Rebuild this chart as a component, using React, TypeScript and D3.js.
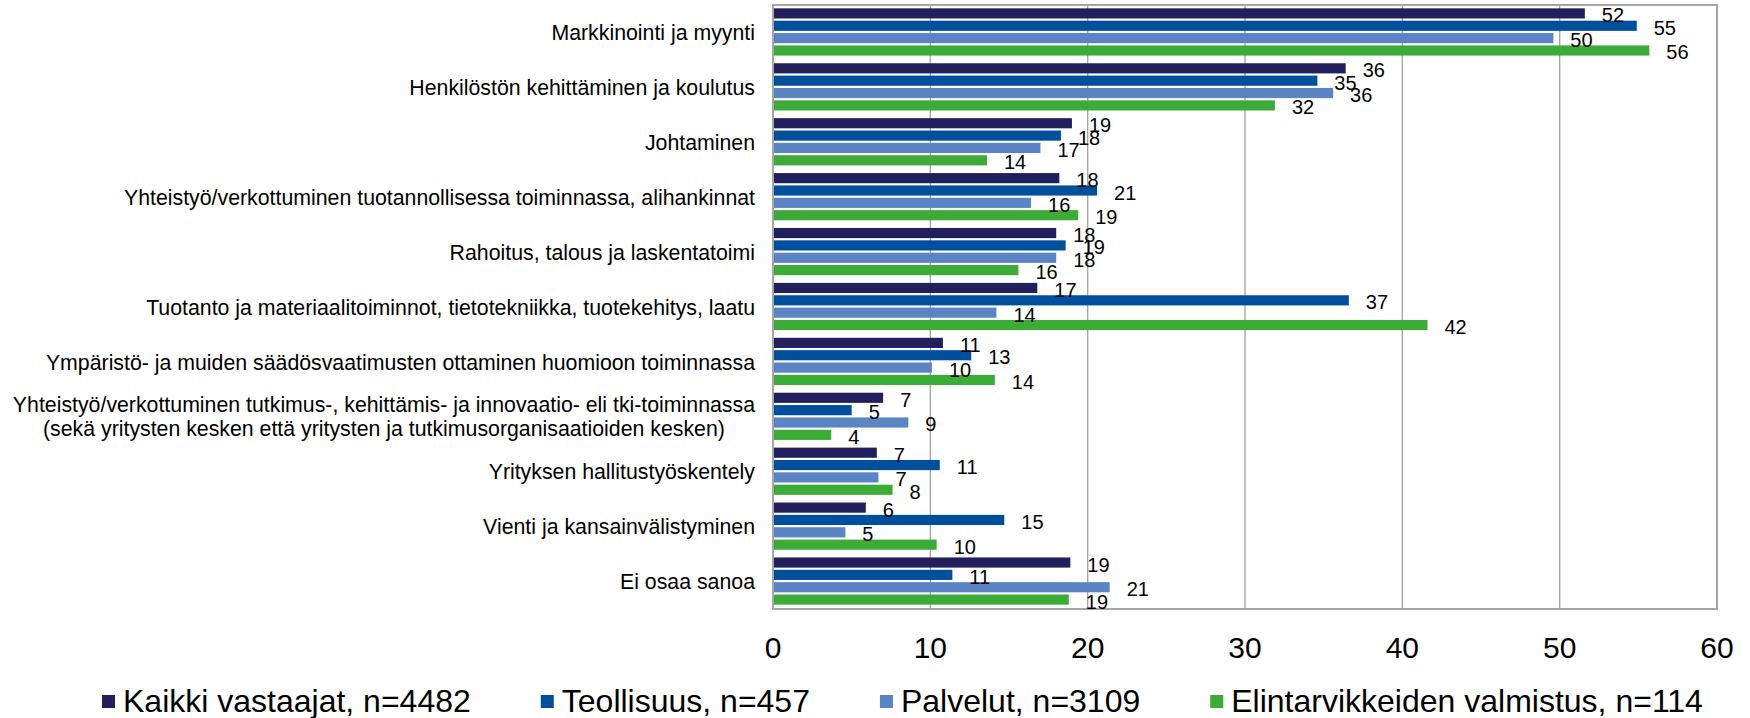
import React, { useEffect, useRef } from "react";
import * as d3 from "d3";

const categories: string[][] = [
  ["Markkinointi ja myynti"],
  ["Henkilöstön kehittäminen ja koulutus"],
  ["Johtaminen"],
  ["Yhteistyö/verkottuminen tuotannollisessa toiminnassa, alihankinnat"],
  ["Rahoitus, talous ja laskentatoimi"],
  ["Tuotanto ja materiaalitoiminnot, tietotekniikka, tuotekehitys, laatu"],
  ["Ympäristö- ja muiden säädösvaatimusten ottaminen huomioon toiminnassa"],
  [
    "Yhteistyö/verkottuminen tutkimus-, kehittämis- ja innovaatio- eli tki-toiminnassa",
    "(sekä yritysten kesken että yritysten ja tutkimusorganisaatioiden kesken)",
  ],
  ["Yrityksen hallitustyöskentely"],
  ["Vienti ja kansainvälistyminen"],
  ["Ei osaa sanoa"],
];

const seriesNames = [
  "Kaikki vastaajat, n=4482",
  "Teollisuus, n=457",
  "Palvelut, n=3109",
  "Elintarvikkeiden valmistus, n=114",
];
const seriesColors = ["#221f5d", "#004f9c", "#5b84c4", "#3cab37"];

const kaikki = [51.6, 36.4, 19.0, 18.2, 18.0, 16.8, 10.8, 7.0, 6.6, 5.9, 18.9];
const teollisuus = [54.9, 34.6, 18.3, 20.6, 18.6, 36.6, 12.6, 5.0, 10.6, 14.7, 11.4];
const palvelut = [49.6, 35.6, 17.0, 16.4, 18.0, 14.2, 10.1, 8.6, 6.7, 4.6, 21.4];
const elintarvike = [55.7, 31.9, 13.6, 19.4, 15.6, 41.6, 14.1, 3.7, 7.6, 10.4, 18.8];
const seriesValues = [kaikki, teollisuus, palvelut, elintarvike];

const xTicks = [0, 10, 20, 30, 40, 50, 60];

const W = 1750;
const H = 718;
const FONT = "'Liberation Sans', Arial, sans-serif";

export default function App() {
  const ref = useRef<SVGSVGElement>(null);

  useEffect(() => {
    const svg = d3.select(ref.current);
    svg.selectAll("*").remove();

    const left = 773, right = 1717, top = 5, bottom = 609;
    const x = d3.scaleLinear().domain([0, 60]).range([left, right]);
    const idx = categories.map((_, i) => String(i));
    const y0 = d3.scaleBand().domain(idx).range([top, bottom]).paddingInner(0.1).paddingOuter(0.05);
    const y1 = d3.scaleBand().domain(["0", "1", "2", "3"]).range([0, y0.bandwidth()]);

    // gridlines
    svg.append("g")
      .selectAll("line")
      .data(xTicks.filter((t) => t > 0 && t < 60))
      .join("line")
      .attr("x1", (d) => x(d))
      .attr("x2", (d) => x(d))
      .attr("y1", top)
      .attr("y2", bottom)
      .attr("stroke", "#a6a6a6")
      .attr("stroke-width", 1.4);

    // bars
    const g = svg.append("g");
    categories.forEach((_, ci) => {
      seriesValues.forEach((vals, si) => {
        const yy = (y0(String(ci)) as number) + (y1(String(si)) as number);
        g.append("rect")
          .attr("x", x(0))
          .attr("y", yy + 0.6)
          .attr("width", x(vals[ci]) - x(0))
          .attr("height", y1.bandwidth() - 2.2)
          .attr("fill", seriesColors[si]);
      });
    });

    // border
    svg.append("rect")
      .attr("x", left)
      .attr("y", top)
      .attr("width", right - left)
      .attr("height", bottom - top)
      .attr("fill", "none")
      .attr("stroke", "#a6a6a6")
      .attr("stroke-width", 2);

    // value labels
    const lg = svg.append("g").attr("font-family", FONT).attr("font-size", 20).attr("fill", "#000");
    categories.forEach((_, ci) => {
      seriesValues.forEach((vals, si) => {
        const yy = (y0(String(ci)) as number) + (y1(String(si)) as number) + y1.bandwidth() / 2;
        lg.append("text")
          .attr("x", x(vals[ci]) + 17)
          .attr("y", yy + 8.5)
          .text(String(Math.round(vals[ci])));
      });
    });

    // category labels
    const cg = svg.append("g").attr("font-family", FONT).attr("font-size", 21.3).attr("fill", "#000");
    categories.forEach((lines, ci) => {
      const cy = (y0(String(ci)) as number) + y0.bandwidth() / 2;
      const n = lines.length;
      const lh = 24;
      const texts = lines.map((ln, li) =>
        cg.append("text")
          .attr("y", cy - ((n - 1) * lh) / 2 + li * lh + 7.6)
          .text(ln)
      );
      const widths = texts.map((t) => (t.node() as SVGTextElement).getComputedTextLength());
      const maxW = Math.max(...widths);
      const cx = 755 - maxW / 2;
      texts.forEach((t) => t.attr("x", cx).attr("text-anchor", "middle"));
    });

    // x tick labels
    svg.append("g")
      .attr("font-family", FONT)
      .attr("font-size", 30)
      .selectAll("text")
      .data(xTicks)
      .join("text")
      .attr("x", (d) => x(d))
      .attr("y", 658)
      .attr("text-anchor", "middle")
      .text((d) => String(d));

    // legend
    const leg = svg.append("g").attr("font-family", FONT).attr("font-size", 32);
    let lx = 102;
    seriesNames.forEach((name, si) => {
      leg.append("rect")
        .attr("x", lx)
        .attr("y", 695)
        .attr("width", 13)
        .attr("height", 13)
        .attr("fill", seriesColors[si]);
      const t = leg.append("text").attr("x", lx + 21).attr("y", 712).text(name);
      const w = (t.node() as SVGTextElement).getComputedTextLength();
      lx = lx + 21 + w + 70;
    });
  }, []);

  return (
    <svg
      ref={ref}
      width={W}
      height={H}
      style={{ position: "absolute", left: 0, top: 0, background: "#fff" }}
    />
  );
}
